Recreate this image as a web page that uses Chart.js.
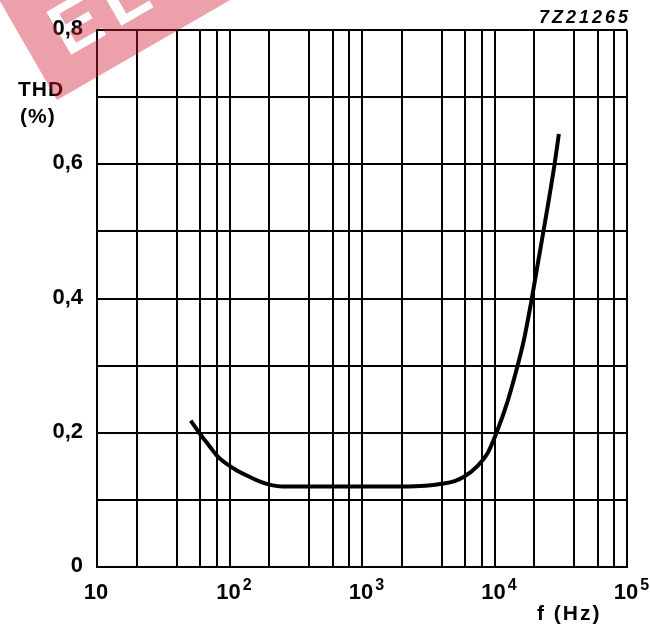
<!DOCTYPE html>
<html>
<head>
<meta charset="UTF-8" />
<script src="https://cdn.jsdelivr.net/npm/chart.js"></script>
<style>
  body, html { margin: 0; padding: 0; background: #fff; }
  canvas { display: block; }
</style>
</head>
<body>
<canvas id="thdChart" width="650" height="628"></canvas>
<script>
// THD vs frequency
const freq = [51, 59, 70, 82, 109, 146, 174, 207, 250, 300, 500, 1000, 2000, 3000, 4000, 5000, 5840, 7400, 8900, 10350, 12470, 14850, 16660, 19050, 21020, 23300, 25700, 28400, 30600];
const thd  = [0.218, 0.20, 0.181, 0.164, 0.146, 0.133, 0.1265, 0.122, 0.12, 0.12, 0.12, 0.12, 0.12, 0.121, 0.124, 0.128, 0.134, 0.150, 0.170, 0.20, 0.245, 0.298, 0.338, 0.398, 0.447, 0.498, 0.547, 0.600, 0.645];

// grid lines and tick labels
const xGrid = [10, 20, 40, 60, 80, 100, 200, 400, 600, 800, 1000, 2000, 4000, 6000, 8000, 10000, 20000, 40000, 60000, 80000, 100000];
const xLabelValues = [10, 100, 1000, 10000, 100000];
const xLabelExp = ['', '2', '3', '4', '5'];
const yLabelValues = [0, 0.2, 0.4, 0.6, 0.8];
const yLabels = ['0', '0,2', '0,4', '0,6', '0,8'];

const FONT = '"Liberation Sans", Arial, sans-serif';

const labelsPlugin = {
  id: 'labels',
  afterDraw(chart) {
    const ctx = chart.ctx;
    const xs = chart.scales.x, ys = chart.scales.y;
    ctx.save();
    ctx.fillStyle = '#000';

    // y tick labels
    ctx.font = 'bold 22px ' + FONT;
    ctx.textAlign = 'right';
    ctx.textBaseline = 'middle';
    yLabelValues.forEach((v, i) => {
      ctx.fillText(yLabels[i], 83, ys.getPixelForValue(v) - 1);
    });

    // x tick labels: 10, 10^2 ...
    ctx.textAlign = 'left';
    ctx.textBaseline = 'alphabetic';
    xLabelValues.forEach((v, i) => {
      const px = xs.getPixelForValue(v);
      ctx.font = 'bold 22px ' + FONT;
      const wb = ctx.measureText('10').width;
      const x0 = px - 1 - wb / 2;
      ctx.fillText('10', x0, 599);
      if (xLabelExp[i]) {
        ctx.font = 'bold 16px ' + FONT;
        ctx.fillText(xLabelExp[i], x0 + wb + 2, 590);
      }
    });

    // axis titles
    ctx.font = 'bold 21px ' + FONT;
    ctx.letterSpacing = '1px';
    ctx.fillText('THD', 18, 96);
    ctx.fillText('(%)', 20, 123);
    ctx.letterSpacing = '2px';
    ctx.fillText('f (Hz)', 537, 620);

    ctx.font = 'italic bold 18px ' + FONT;
    ctx.letterSpacing = '3px';
    ctx.textAlign = 'right';
    ctx.fillText('7Z21265', 631, 23);
    ctx.restore();

    // watermark band in the top-left corner
    const off = document.createElement('canvas');
    off.width = chart.width; off.height = chart.height;
    const o = off.getContext('2d');
    o.translate(57, 100);
    o.rotate(-Math.PI / 6);
    o.fillStyle = 'rgb(210,30,50)';
    o.fillRect(0, -115, 420, 115);
    o.globalCompositeOperation = 'destination-out';
    o.font = '900 72px ' + FONT;
    o.letterSpacing = '10px';
    o.fillText('ELEKTOR', 30, -32);
    ctx.save();
    ctx.globalAlpha = 0.42;
    ctx.drawImage(off, 0, 0);
    ctx.restore();
  }
};

new Chart(document.getElementById('thdChart'), {
  type: 'line',
  data: {
    datasets: [{
      data: freq.map((f, i) => ({ x: f, y: thd[i] })),
      borderColor: '#000',
      borderWidth: 4,
      pointRadius: 0,
      cubicInterpolationMode: 'monotone',
      fill: false
    }]
  },
  options: {
    responsive: false,
    animation: false,
    layout: { padding: { left: 97, right: 23, top: 30, bottom: 61 } },
    plugins: { legend: { display: false }, tooltip: { enabled: false } },
    scales: {
      x: {
        type: 'logarithmic',
        min: 10,
        max: 100000,
        afterBuildTicks: s => { s.ticks = xGrid.map(v => ({ value: v })); },
        ticks: { display: false },
        grid: { color: '#000', lineWidth: 2, drawTicks: false },
        border: { color: '#000', width: 2 }
      },
      y: {
        min: 0,
        max: 0.8,
        ticks: { display: false, stepSize: 0.1 },
        grid: { color: '#000', lineWidth: 2, drawTicks: false },
        border: { color: '#000', width: 2 }
      }
    }
  },
  plugins: [labelsPlugin]
});
</script>
</body>
</html>
